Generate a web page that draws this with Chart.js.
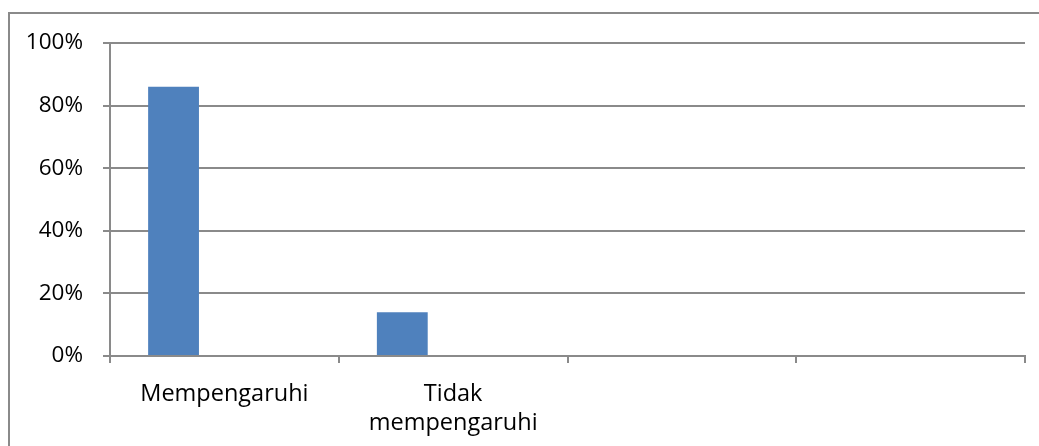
<!DOCTYPE html>
<html>
<head>
<meta charset="utf-8">
<script src="https://cdn.jsdelivr.net/npm/chart.js@4/dist/chart.umd.min.js"></script>
<style>
  html, body { margin: 0; padding: 0; background: #ffffff; }
  #wrap { position: relative; width: 1039px; height: 446px; }
  #frame {
    position: absolute; left: 8px; top: 12px; right: -5px; bottom: -5px;
    border-left: 2px solid #8a8a8a; border-top: 2px solid #8a8a8a;
    pointer-events: none;
  }
</style>
</head>
<body>
<div id="wrap">
  <canvas id="myChart" width="1039" height="446"></canvas>
  <div id="frame"></div>
</div>
<script>
Chart.defaults.font.family = 'Open Sans';

// categories (two slots are empty in the source sheet)
const categories = ['Mempengaruhi', ['Tidak', 'mempengaruhi'], '', ''];

// three series, only the first one holds values (percent)
const series1 = [86, 14, null, null];
const series2 = [null, null, null, null];
const series3 = [null, null, null, null];

const yTicks = [0, 20, 40, 60, 80, 100];

const gridGray = '#8a8a8a';
const barBlue = '#4f81bd';

function createChart() {
    const ctx = document.getElementById('myChart');

    const myChart = new Chart(ctx, {
        type: 'bar',
        data: {
            labels: categories,
            datasets: [
                { label: 'Series1', data: series1, backgroundColor: barBlue },
                { label: 'Series2', data: series2, backgroundColor: '#c0504d' },
                { label: 'Series3', data: series3, backgroundColor: '#9bbb59' }
            ]
        },
        options: {
            responsive: false,
            animation: false,
            categoryPercentage: 2 / 3,
            barPercentage: 1,
            layout: {
                padding: { top: 43, right: 14, bottom: 0, left: 0 }
            },
            scales: {
                x: {
                    afterFit: function (scale) {
                        scale.height = 90;
                    },
                    border: { display: true, color: gridGray, width: 2 },
                    grid: {
                        offset: true,
                        drawOnChartArea: false,
                        drawTicks: true,
                        tickLength: 7,
                        color: gridGray,
                        lineWidth: 2
                    },
                    ticks: {
                        color: '#000000',
                        padding: 17,
                        maxRotation: 0,
                        autoSkip: false,
                        font: { size: 23.5, lineHeight: 1.22 }
                    }
                },
                y: {
                    min: 0,
                    max: 100,
                    afterFit: function (scale) {
                        scale.width = 110;
                    },
                    afterBuildTicks: function (scale) {
                        scale.ticks = yTicks.map(v => ({ value: v }));
                    },
                    border: { display: true, color: gridGray, width: 2 },
                    grid: {
                        color: gridGray,
                        lineWidth: 2,
                        tickLength: 7
                    },
                    ticks: {
                        color: '#000000',
                        padding: 20,
                        font: { size: 22.5 },
                        callback: function (value) {
                            return value + '%';
                        }
                    }
                }
            },
            plugins: {
                legend: { display: false },
                tooltip: { enabled: false }
            }
        }
    });
}

createChart();
</script>
</body>
</html>
